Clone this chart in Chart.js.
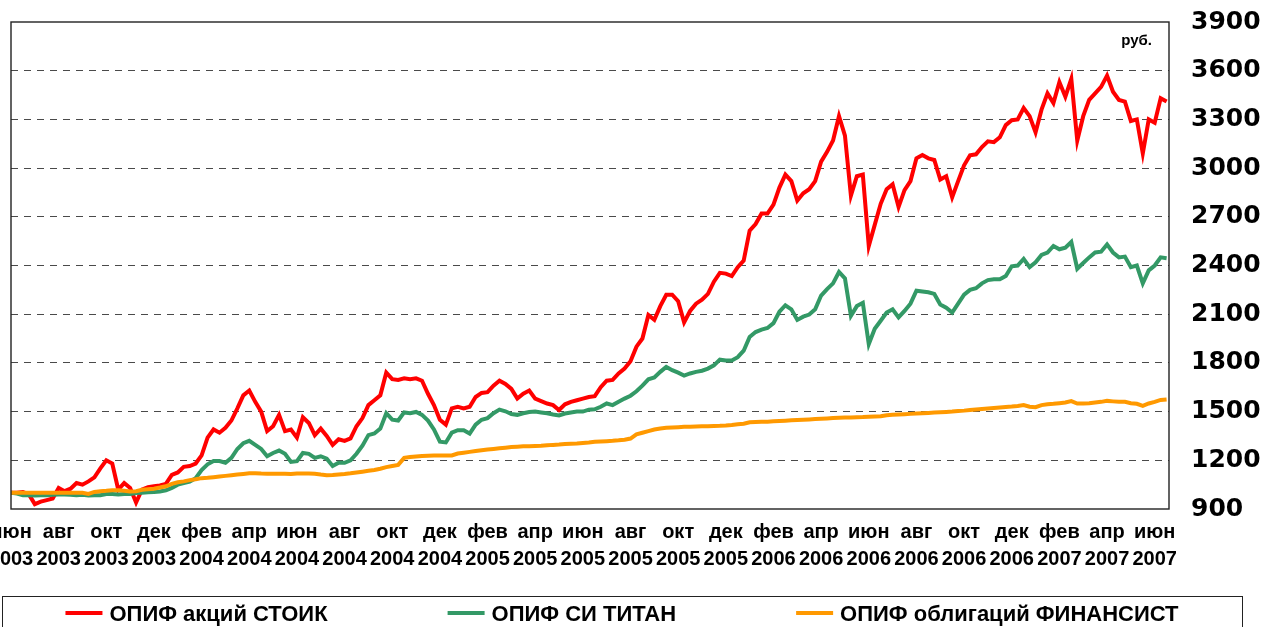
<!DOCTYPE html>
<html>
<head>
<meta charset="utf-8">
<script src="https://cdn.jsdelivr.net/npm/chart.js@4.4.0/dist/chart.umd.min.js"></script>
<style>html,body{margin:0;padding:0;background:#fff;overflow:hidden}canvas{display:block}</style>
</head>
<body>
<canvas id="c" width="1264" height="627"></canvas>
<script>
// x-axis tick labels (every two months, June 2003 - June 2007)
const tickMonths = ['июн','авг','окт','дек','фев','апр','июн','авг','окт','дек','фев','апр','июн','авг','окт','дек','фев','апр','июн','авг','окт','дек','фев','апр','июн'];
const tickYears  = ['2003','2003','2003','2003','2004','2004','2004','2004','2004','2004','2005','2005','2005','2005','2005','2005','2006','2006','2006','2006','2006','2006','2007','2007','2007'];

// series names and colours
const seriesNames = ['ОПИФ акций СТОИК','ОПИФ СИ ТИТАН','ОПИФ облигаций ФИНАНСИСТ'];
const seriesColors = ['#ff0000','#339966','#ff9900'];
const unitLabel = 'руб.';

// sampling: one value every quarter month from 1 June 2003
const stepMonths = 0.25;
const xMaxMonths = 48.6;

// y-axis range
const yMin = 900, yMax = 3900, yStep = 300;

const stoik = [
1000,1000,1005,990,930,945,955,965,1030,1010,
1025,1060,1050,1070,1095,1150,1200,1180,1020,1060,
1030,940,1020,1035,1040,1045,1055,1110,1125,1160,
1165,1180,1230,1340,1390,1370,1400,1445,1520,1600,
1630,1560,1500,1380,1410,1480,1380,1390,1340,1465,
1430,1355,1395,1350,1295,1330,1320,1335,1410,1460,
1540,1570,1600,1740,1700,1695,1705,1700,1705,1690,
1610,1540,1450,1420,1520,1530,1520,1530,1590,1615,
1620,1660,1690,1670,1640,1580,1610,1630,1580,1565,
1550,1540,1510,1545,1560,1570,1580,1590,1595,1650,
1690,1695,1735,1765,1810,1900,1950,2095,2065,2150,
2220,2220,2180,2050,2120,2165,2190,2225,2300,2355,
2350,2335,2390,2430,2615,2655,2720,2720,2775,2880,
2960,2920,2800,2845,2870,2920,3040,3100,3170,3320,
3200,2830,2950,2960,2520,2650,2780,2870,2900,2760,
2864,2920,3060,3080,3060,3050,2930,2950,2820,2920,
3017,3079,3085,3130,3165,3160,3190,3265,3295,3300,
3370,3320,3220,3360,3460,3400,3530,3440,3550,3170,
3320,3420,3460,3500,3570,3470,3420,3410,3290,3300,
3090,3300,3280,3430,3410
];

const titan = [
1000,995,985,985,983,985,985,987,990,990,
988,985,987,983,985,985,992,992,990,992,
993,998,1000,1003,1005,1008,1015,1030,1050,1060,
1068,1090,1140,1175,1195,1195,1185,1215,1270,1305,
1320,1295,1270,1225,1245,1260,1240,1190,1195,1245,
1240,1215,1225,1210,1165,1185,1185,1200,1240,1290,
1355,1365,1395,1490,1450,1445,1495,1490,1498,1480,
1445,1390,1315,1310,1370,1385,1385,1365,1420,1450,
1460,1490,1512,1502,1485,1480,1490,1497,1500,1495,
1490,1482,1476,1488,1495,1500,1500,1512,1514,1530,
1550,1540,1560,1580,1598,1625,1660,1699,1710,1745,
1775,1755,1740,1722,1735,1745,1752,1765,1785,1820,
1815,1815,1835,1875,1960,1990,2005,2015,2045,2115,
2155,2130,2065,2085,2098,2130,2215,2255,2290,2360,
2320,2090,2150,2170,1915,2010,2060,2110,2130,2080,
2120,2165,2245,2240,2235,2225,2160,2140,2110,2165,
2220,2250,2260,2290,2310,2315,2315,2335,2395,2400,
2440,2390,2420,2465,2480,2520,2500,2510,2545,2380,
2415,2450,2480,2485,2530,2480,2450,2455,2390,2400,
2290,2370,2400,2450,2445
];

const finansist = [
1000,1000,1000,1000,1000,1000,1000,1000,1000,1000,
1000,1000,1000,993,1005,1010,1012,1015,1015,1013,
1008,1010,1018,1022,1025,1032,1040,1055,1065,1070,
1078,1083,1090,1092,1096,1100,1104,1108,1112,1116,
1120,1120,1118,1117,1117,1117,1117,1115,1118,1118,
1118,1117,1112,1108,1110,1113,1116,1120,1125,1130,
1135,1140,1148,1158,1165,1172,1215,1220,1224,1226,
1228,1229,1229,1229,1230,1242,1247,1252,1257,1262,
1266,1270,1274,1278,1282,1284,1286,1287,1288,1289,
1292,1295,1297,1300,1302,1304,1307,1310,1314,1316,
1318,1320,1323,1327,1334,1360,1370,1380,1390,1396,
1400,1402,1404,1406,1407,1408,1409,1410,1412,1413,
1415,1418,1422,1425,1434,1436,1437,1438,1440,1442,
1444,1446,1448,1450,1452,1454,1456,1458,1460,1462,
1463,1464,1465,1466,1468,1470,1472,1478,1480,1482,
1484,1486,1488,1490,1492,1494,1496,1498,1500,1503,
1506,1510,1513,1516,1519,1522,1525,1528,1531,1535,
1540,1530,1527,1540,1545,1548,1552,1556,1565,1550,
1550,1552,1556,1560,1566,1563,1560,1560,1552,1548,
1535,1550,1560,1572,1575
];

const toPoints = arr => arr.map((v, i) => ({x: i * stepMonths, y: v}));
const seriesValues = [stoik, titan, finansist];

const datasets = seriesValues.map((vals, k) => ({
  label: seriesNames[k],
  data: toPoints(vals),
  borderColor: seriesColors[k],
  backgroundColor: seriesColors[k],
  borderWidth: 4,
  pointRadius: 0,
  tension: 0,
  fill: false,
  order: 3 - k
}));

const bgPlugin = {
  id: 'bg',
  beforeDraw(chart) {
    const c = chart.ctx; c.save(); c.fillStyle = '#fff';
    c.fillRect(0, 0, chart.width, chart.height); c.restore();
  }
};

const framePlugin = {
  id: 'frame',
  afterDatasetsDraw(chart) {
    const a = chart.chartArea, c = chart.ctx;
    c.save();
    c.strokeStyle = '#222'; c.lineWidth = 1.4;
    c.strokeRect(a.left, a.top, a.right - a.left, a.bottom - a.top);
    c.font = 'bold 15px "Liberation Sans", Arial, sans-serif';
    c.fillStyle = '#000'; c.textAlign = 'right'; c.textBaseline = 'alphabetic';
    c.fillText(unitLabel, a.right - 17, a.top + 23);
    c.restore();
  }
};

const legendPlugin = {
  id: 'lineLegend',
  afterDraw(chart) {
    const c = chart.ctx;
    c.save();
    c.font = 'bold 22px "Liberation Sans", Arial, sans-serif';
    const items = chart.data.datasets.map(d => ({text: d.label, color: d.borderColor, w: c.measureText(d.label).width}));
    const lineW = 37, gap = 7, itemGap = 120;
    const total = items.reduce((s, it) => s + lineW + gap + it.w, 0) + itemGap * (items.length - 1);
    const boxL = 2, boxR = 1242, boxT = 596;
    c.strokeStyle = '#222'; c.lineWidth = 1;
    c.strokeRect(boxL + 0.5, boxT + 0.5, boxR - boxL, 80);
    let x = (boxL + boxR) / 2 - total / 2;
    const cy = 613;
    items.forEach(it => {
      c.strokeStyle = it.color; c.lineWidth = 4; c.lineCap = 'butt';
      c.beginPath(); c.moveTo(x, cy); c.lineTo(x + lineW, cy); c.stroke();
      c.fillStyle = '#000'; c.textAlign = 'left'; c.textBaseline = 'middle';
      c.fillText(it.text, x + lineW + gap, cy + 2);
      x += lineW + gap + it.w + itemGap;
    });
    c.restore();
  }
};

new Chart(document.getElementById('c'), {
  type: 'line',
  data: {datasets},
  plugins: [bgPlugin, framePlugin, legendPlugin],
  options: {
    responsive: false,
    animation: false,
    layout: {padding: {left: 11, top: 22, right: 0, bottom: 0}},
    plugins: {legend: {display: false}, tooltip: {enabled: false}},
    scales: {
      x: {
        type: 'linear',
        min: 0,
        max: xMaxMonths,
        border: {display: false},
        grid: {display: false, drawTicks: false},
        ticks: {
          stepSize: 2,
          includeBounds: false,
          autoSkip: false,
          maxRotation: 0,
          minRotation: 0,
          padding: 10,
          color: '#000',
          font: {family: '"Liberation Sans", Arial, sans-serif', size: 20, weight: 'bold', lineHeight: 1.35},
          callback: (v) => {
            const k = Math.round(v / 2);
            if (Math.abs(v - 2 * k) > 1e-6 || k < 0 || k >= tickMonths.length) return '';
            return [tickMonths[k], tickYears[k]];
          }
        },
        afterFit(s) { s.height = 118; s.paddingLeft = 0; s.paddingRight = 0; }
      },
      y: {
        position: 'right',
        min: yMin,
        max: yMax,
        border: {display: false, dash: [7, 6]},
        grid: {
          drawTicks: false,
          lineWidth: 1,
          color: (ctx) => (ctx.tick && (ctx.tick.value === yMin || ctx.tick.value === yMax)) ? 'rgba(0,0,0,0)' : '#4a4a4a'
        },
        ticks: {
          stepSize: yStep,
          padding: 22,
          crossAlign: 'near',
          color: '#000',
          font: {family: '"DejaVu Sans", sans-serif', size: 25, weight: 'bold'},
          callback: (v) => String(v)
        },
        afterFit(s) { s.width = 95; s.paddingTop = 0; s.paddingBottom = 0; }
      }
    }
  }
});
</script>
</body>
</html>
